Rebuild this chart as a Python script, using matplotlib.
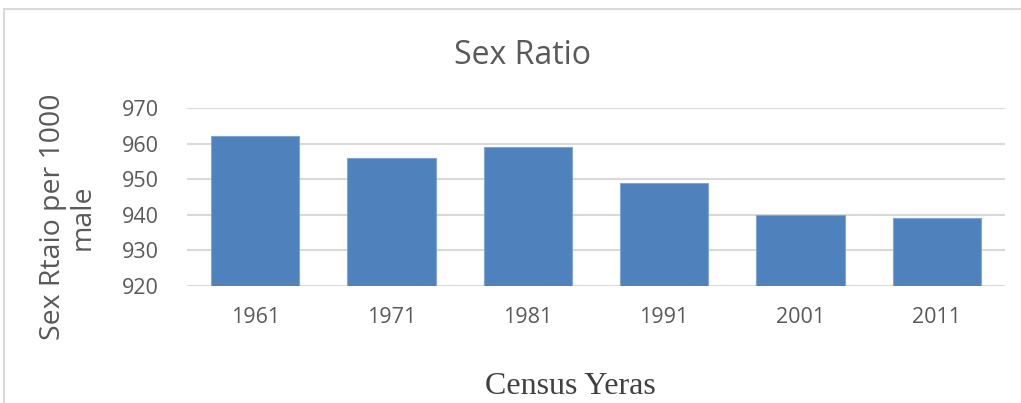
import matplotlib
matplotlib.use("Agg")
import matplotlib.pyplot as plt
from matplotlib.patches import Rectangle

years = ["1961", "1971", "1981", "1991", "2001", "2011"]
sex_ratio = [962, 956, 959, 949, 940, 939]
yticks = [920, 930, 940, 950, 960, 970]

W, H = 1021, 403
fig = plt.figure(figsize=(W / 100, H / 100), dpi=100)

# chart frame (border partially outside)
fig.patches.append(Rectangle((4 / W, -0.1), 1.2, 1 - 9 / H + 0.1, transform=fig.transFigure,
                             fill=False, edgecolor="#d9d9d9", linewidth=1.5))

ax = fig.add_axes([187 / W, 1 - 286 / H, (1005 - 187) / W, (286 - 108) / H])
x = range(len(years))
ax.bar(x, sex_ratio, width=0.65, color="#4f81bd", edgecolor="#7ea6d6", linewidth=0.8, zorder=3)
ax.set_ylim(920, 970)
ax.set_xlim(-0.5, len(years) - 0.5)
ax.set_yticks(yticks)
ax.set_xticks(list(x))
ax.set_xticklabels(years)
ax.yaxis.grid(True, color="#d9d9d9", linewidth=1.5, zorder=0)
for s in ax.spines.values():
    s.set_visible(False)
ax.tick_params(axis="both", length=0, colors="#595959")
ax.tick_params(axis="y", pad=20, labelsize=15.5)
ax.tick_params(axis="x", pad=15, labelsize=15.5)
for lab in ax.get_yticklabels() + ax.get_xticklabels():
    lab.set_fontfamily("Open Sans")

fig.text(522 / W, 1 - 55 / H, "Sex Ratio", ha="center", va="center", fontsize=23,
         color="#595959", family="Open Sans")
fig.text(68 / W, 1 - 217 / H, "Sex Rtaio per 1000\nmale", ha="center", va="center",
         rotation=90, fontsize=20.5, color="#595959", family="Open Sans", linespacing=1.05)
fig.text(570 / W, 1 - 387 / H, "Census Yeras", ha="center", va="center", fontsize=23,
         color="#404040", family="Liberation Serif")

fig.savefig("out.png", dpi=100)
